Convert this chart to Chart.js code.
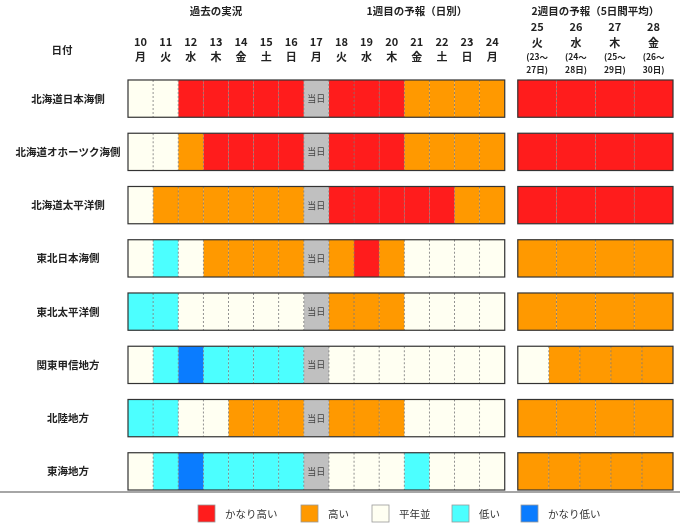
<!DOCTYPE html>
<html><head><meta charset="utf-8">
<script src="https://cdn.jsdelivr.net/npm/chart.js"></script>
<style>html,body{margin:0;padding:0;background:#fff}#w{width:680px;height:526px}</style>
</head><body><div id="w"><canvas id="c"></canvas></div>
<script>
const regions=["北海道日本海側","北海道オホーツク海側","北海道太平洋側","東北日本海側","東北太平洋側","関東甲信地方","北陸地方","東海地方"];
const days=["10","11","12","13","14","15","16","17","18","19","20","21","22","23","24"];
const weekdays=["月","火","水","木","金","土","日","月","火","水","木","金","土","日","月"];
const week2Days=["25","26","27","28"];
const week2Weekdays=["火","水","木","金"];
const week2Ranges=[["(23～","27日)"],["(24～","28日)"],["(25～","29日)"],["(26～","30日)"]];
const week1=[
"WWRRRRRGRRROOOO",
"WWORRRRGRRROOOO",
"WOOOOOOGRRRRROO",
"WCWOOOOGOROWWWW",
"CCWWWWWGOOOWWWW",
"WCBCCCCGWWWWWWW",
"CCWWOOOGOOOWWWW",
"WCBCCCCGWWWCWWW"];
// week 2 segments: [start, end] in column units (0..4) and class
const week2=[
[[0,1,"R"],[1,2,"R"],[2,3,"R"],[3,4,"R"]],
[[0,1,"R"],[1,2,"R"],[2,3,"R"],[3,4,"R"]],
[[0,1,"R"],[1,2,"R"],[2,3,"R"],[3,4,"R"]],
[[0,1,"O"],[1,2,"O"],[2,3,"O"],[3,4,"O"]],
[[0,1,"O"],[1,2,"O"],[2,3,"O"],[3,4,"O"]],
[[0,0.8,"W"],[0.8,1.6,"O"],[1.6,2.4,"O"],[2.4,3.2,"O"],[3.2,4,"O"]],
[[0,1,"O"],[1,2,"O"],[2,3,"O"],[3,4,"O"]],
[[0,0.8,"O"],[0.8,1.6,"O"],[1.6,2.4,"O"],[2.4,3.2,"O"],[3.2,4,"O"]]];
const legendLabels=["かなり高い","高い","平年並","低い","かなり低い"];
const legendKeys=["R","O","W","C","B"];
const COL={R:"#ff1c1c",O:"#ff9900",W:"#fffff2",C:"#4cffff",B:"#0a7cff",G:"#c0c0c0"};
const W2S=15.52, W2U=1.545;
const datasets=[];
for(let d=0;d<days.length;d++){
  datasets.push({data:regions.map((r,i)=>({x:[d,d+1],y:r})),backgroundColor:regions.map((r,i)=>COL[week1[i][d]])});
}
for(let s=0;s<5;s++){
  const data=[],bg=[];
  regions.forEach((r,i)=>{const seg=week2[i][s];
    if(seg){data.push({x:[W2S+seg[0]*W2U,W2S+seg[1]*W2U],y:r});bg.push(COL[seg[2]]);}});
  datasets.push({data,backgroundColor:bg});
}
const FONT='"Noto Sans CJK JP", sans-serif';
const deco={id:'deco',
beforeDraw(ch){const c=ch.ctx;c.save();c.strokeStyle='#888';c.lineWidth=1.5;c.beginPath();c.moveTo(0,492);c.lineTo(680,492);c.stroke();c.restore();},
afterDatasetsDraw(ch){
  const c=ch.ctx,x=ch.scales.x,y=ch.scales.y;const meta=ch.getDatasetMeta(0);
  c.save();
  regions.forEach((r,i)=>{
    const el=meta.data[i];const h=el.height,cy=el.y,t=cy-h/2;
    // dashed dividers week1
    c.strokeStyle='#777';c.lineWidth=0.8;c.setLineDash([2,2]);
    for(let d=1;d<15;d++){const px=x.getPixelForValue(d);c.beginPath();c.moveTo(px,t);c.lineTo(px,t+h);c.stroke();}
    week2[i].forEach((s,k)=>{if(k>0){const px=x.getPixelForValue(W2S+s[0]*W2U);c.beginPath();c.moveTo(px,t);c.lineTo(px,t+h);c.stroke();}});
    c.setLineDash([]);c.strokeStyle='#333';c.lineWidth=1.2;
    const a=x.getPixelForValue(0),b=x.getPixelForValue(15);c.strokeRect(a,t,b-a,h);
    const a2=x.getPixelForValue(W2S),b2=x.getPixelForValue(W2S+4*W2U);c.strokeRect(a2,t,b2-a2,h);
    // today label
    c.fillStyle='#444';c.font='9px '+FONT;c.textAlign='center';c.textBaseline='middle';
    c.fillText("当日",x.getPixelForValue(7.5),cy);
    // region label
    c.fillStyle='#222';c.font='bold 10.5px '+FONT;c.fillText(r,68,cy);
  });
  c.fillStyle='#222';c.textAlign='center';c.textBaseline='middle';
  c.font='bold 10.5px '+FONT;
  c.fillText("過去の実況",x.getPixelForValue(3.5),11);
  c.fillText("1週目の予報（日別）",x.getPixelForValue(11.5),11);
  c.fillText("2週目の予報（5日間平均）",x.getPixelForValue(W2S+2*W2U),11);
  c.fillText("日付",62,50);
  c.font='bold 11px '+FONT;
  days.forEach((d,i)=>{const px=x.getPixelForValue(i+0.5);c.fillText(d,px,42);c.fillText(weekdays[i],px,57);});
  week2Days.forEach((d,i)=>{const px=x.getPixelForValue(W2S+(i+0.5)*W2U);
    c.font='bold 11px '+FONT;c.fillText(d,px,27);c.fillText(week2Weekdays[i],px,43);
    c.font='bold 8.5px '+FONT;c.fillText(week2Ranges[i][0],px,57);c.fillText(week2Ranges[i][1],px,70);});
  // legend
  const lx=[198,301,372,452,521];
  legendKeys.forEach((k,i)=>{c.fillStyle=COL[k];c.fillRect(lx[i],505,17,17);c.strokeStyle='#999';c.lineWidth=0.8;c.strokeRect(lx[i],505,17,17);
    c.fillStyle='#333';c.font='10.5px '+FONT;c.textAlign='left';c.fillText(legendLabels[i],lx[i]+27,514);});
  c.restore();
}};
new Chart(document.getElementById('c'),{type:'bar',data:{labels:regions,datasets},
options:{indexAxis:'y',responsive:true,maintainAspectRatio:false,animation:false,
layout:{padding:{left:128,right:7,top:72,bottom:28}},
datasets:{bar:{grouped:false,categoryPercentage:1,barPercentage:0.7,borderWidth:0,borderSkipped:false}},
scales:{x:{type:'linear',min:0,max:W2S+4*W2U,display:false},y:{type:'category',display:false}},
plugins:{legend:{display:false},tooltip:{enabled:false}}},plugins:[deco]});
</script></body></html>
